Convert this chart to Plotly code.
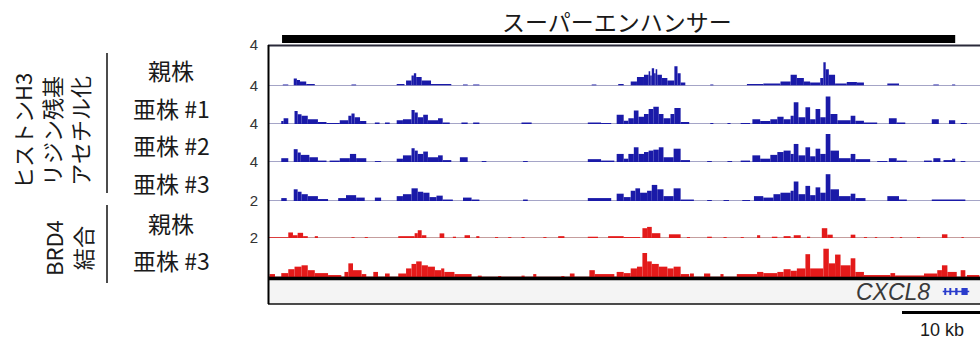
import plotly.graph_objects as go

# ---------------- data (genomic position in kb from left edge of view) ----------------
# each entry: (start_kb, end_kb, signal)
h3_parent = [
    (1.9, 2.6, 0.1), (3.3, 3.7, 0.7), (3.7, 4.1, 0.55), (4.1, 4.9, 0.4), (4.9, 6.0, 0.15),
    (10.7, 11.3, 0.1), (16.5, 17.5, 0.15), (17.7, 18.4, 0.5), (18.4, 18.7, 1.0), (18.7, 19.0, 1.2),
    (19.0, 19.7, 0.85), (19.7, 20.9, 0.5), (20.9, 23.5, 0.15), (25.0, 25.6, 0.1), (26.3, 27.1, 0.1),
    (41.5, 42.1, 0.1), (44.9, 45.6, 0.15),
    (46.5, 47.3, 0.4), (47.3, 48.2, 0.85), (48.2, 48.8, 1.05), (48.8, 49.0, 1.4), (49.0, 49.2, 1.0),
    (49.2, 49.5, 1.7), (49.5, 49.7, 1.2), (49.7, 49.9, 1.6), (49.9, 50.5, 1.05), (50.5, 51.2, 0.75),
    (51.2, 52.1, 0.5), (52.1, 52.5, 1.9), (52.5, 52.9, 1.2), (52.9, 53.5, 0.3), (56.7, 57.1, 0.1),
    (61.4, 63.5, 0.15), (63.5, 65.7, 0.2), (65.7, 67.0, 0.4), (67.0, 67.8, 1.05), (67.8, 68.7, 0.75),
    (68.7, 69.5, 0.4), (69.5, 70.8, 0.3), (70.8, 71.2, 0.75), (71.2, 71.5, 2.3), (71.5, 71.9, 1.6),
    (71.9, 72.7, 1.05), (72.7, 74.2, 0.2), (74.2, 75.5, 0.35), (75.5, 76.4, 0.3), (79.4, 80.9, 0.2),
    (85.3, 86.0, 0.1), (87.7, 88.1, 0.1),
]
h3_sub1 = [
    (1.7, 2.0, 0.3), (2.0, 2.6, 0.6), (3.4, 3.8, 1.35), (3.8, 4.3, 1.0), (4.3, 5.1, 0.85),
    (5.1, 6.4, 0.5), (6.4, 7.5, 0.2), (7.5, 9.2, 0.1), (9.2, 10.3, 0.4), (10.3, 10.7, 0.85),
    (10.7, 11.1, 1.1), (11.1, 11.8, 0.7), (11.8, 12.6, 0.3), (13.7, 14.3, 0.15), (15.0, 15.6, 0.15),
    (16.5, 17.3, 0.4), (17.3, 18.4, 0.5), (18.4, 18.8, 1.45), (18.8, 19.2, 1.2), (19.2, 19.9, 0.7),
    (19.9, 20.5, 0.95), (20.5, 21.8, 0.4), (21.8, 22.4, 0.6), (22.4, 23.3, 0.15), (24.8, 25.6, 0.15),
    (26.3, 27.1, 0.15), (32.5, 33.8, 0.15), (41.0, 42.7, 0.15), (42.7, 44.0, 0.1), (44.7, 45.6, 0.95),
    (45.6, 46.2, 0.35), (46.2, 46.9, 0.6), (46.9, 47.5, 1.4), (47.5, 48.2, 0.75), (48.2, 48.8, 1.05),
    (48.8, 49.4, 1.55), (49.4, 50.1, 1.8), (50.1, 50.7, 1.05), (50.7, 51.6, 0.6), (51.6, 52.1, 1.05),
    (52.1, 52.9, 1.65), (52.9, 54.0, 0.2), (56.7, 57.1, 0.1), (58.9, 59.3, 0.1), (60.6, 61.8, 0.1),
    (62.1, 63.1, 0.5), (63.1, 64.4, 0.3), (64.4, 65.3, 0.5), (65.3, 66.1, 0.75), (66.1, 67.0, 0.5),
    (67.0, 67.4, 0.85), (67.4, 68.0, 2.25), (68.0, 68.9, 0.7), (68.9, 69.5, 1.75), (69.5, 70.2, 0.5),
    (70.2, 70.8, 1.55), (70.8, 71.5, 0.7), (71.5, 72.1, 2.85), (72.1, 73.0, 1.05), (73.0, 74.7, 0.4),
    (74.7, 75.3, 0.85), (75.3, 76.4, 0.35), (76.4, 78.1, 0.15), (79.6, 80.6, 0.6), (80.6, 81.7, 0.15),
    (85.1, 86.0, 0.5), (87.3, 88.1, 0.4), (88.8, 89.6, 0.1),
]
h3_sub2 = [
    (1.7, 2.6, 0.4), (3.3, 3.8, 1.35), (3.8, 4.2, 1.0), (4.2, 5.3, 0.75), (5.3, 6.4, 0.5),
    (6.4, 7.5, 0.15), (7.9, 9.2, 0.15), (9.2, 10.5, 0.4), (10.5, 11.3, 0.85), (11.3, 12.6, 0.4),
    (13.7, 14.5, 0.1), (16.5, 17.3, 0.35), (17.3, 18.4, 0.7), (18.4, 18.8, 1.45), (18.8, 19.2, 1.2),
    (19.2, 19.9, 0.85), (19.9, 20.5, 1.1), (20.5, 21.8, 0.5), (21.8, 22.4, 0.7), (22.4, 23.5, 0.2),
    (24.6, 25.6, 0.5), (27.4, 28.0, 0.1), (32.7, 33.3, 0.1), (41.0, 42.7, 0.3), (42.7, 44.4, 0.15),
    (44.7, 45.6, 0.85),
    (45.6, 46.2, 0.35), (46.2, 46.9, 0.85), (46.9, 47.5, 1.55), (47.5, 48.2, 0.85), (48.2, 48.8, 1.05),
    (48.8, 49.4, 1.2), (49.4, 50.1, 1.3), (50.1, 50.7, 1.55), (50.7, 52.0, 0.5), (52.0, 52.9, 1.4),
    (52.9, 54.1, 0.2), (56.3, 56.9, 0.1), (58.9, 59.5, 0.1), (60.6, 61.8, 0.15), (62.1, 63.1, 0.7),
    (63.1, 64.4, 0.35), (64.4, 65.3, 0.75), (65.3, 66.1, 1.05), (66.1, 67.0, 1.2), (67.0, 67.4, 0.85),
    (67.4, 68.0, 1.9), (68.0, 68.9, 0.7), (68.9, 69.5, 1.55), (69.5, 70.2, 0.6), (70.2, 70.8, 1.4),
    (70.8, 71.5, 0.85), (71.5, 72.1, 2.95), (72.1, 73.2, 1.2), (73.2, 74.7, 0.4), (74.7, 75.3, 0.85),
    (75.3, 77.2, 0.3), (78.1, 79.4, 0.1), (79.6, 80.6, 0.4), (80.6, 81.9, 0.15), (84.1, 85.1, 0.15),
    (85.3, 86.2, 0.4), (86.6, 87.7, 0.2), (87.7, 88.1, 0.35), (88.8, 89.4, 0.1),
]
h3_sub3 = [
    (1.7, 2.4, 0.3), (3.3, 3.8, 1.2), (3.8, 4.3, 0.95), (4.3, 5.1, 0.7), (5.1, 6.4, 0.5),
    (6.4, 7.7, 0.2), (9.0, 10.0, 0.3), (10.0, 11.3, 0.6), (11.3, 12.4, 0.35), (13.7, 14.5, 0.35),
    (16.5, 17.3, 0.5), (17.3, 18.4, 0.7), (18.4, 19.2, 1.3), (19.2, 19.9, 0.95), (19.9, 20.7, 0.85),
    (20.7, 21.6, 0.4), (21.6, 22.4, 0.55), (22.4, 23.7, 0.15), (25.0, 26.1, 0.35), (26.1, 27.1, 0.15),
    (32.7, 33.3, 0.15), (41.0, 44.0, 0.3), (44.7, 45.6, 0.75),
    (45.6, 46.5, 0.4), (46.5, 47.1, 1.05), (47.1, 47.7, 1.3), (47.7, 48.6, 0.85), (48.6, 49.2, 1.05),
    (49.2, 49.9, 1.65), (49.9, 50.7, 1.2), (50.7, 52.0, 0.5), (52.0, 52.9, 1.3), (52.9, 54.6, 0.15),
    (56.3, 56.9, 0.1), (58.4, 59.1, 0.1), (60.8, 61.8, 0.1), (62.3, 63.5, 0.5), (63.5, 64.8, 0.35),
    (64.8, 65.7, 0.7), (65.7, 67.0, 0.85), (67.0, 67.4, 1.05), (67.4, 68.0, 2.0), (68.0, 68.9, 0.7),
    (68.9, 69.5, 1.55), (69.5, 70.2, 0.6), (70.2, 70.8, 1.4), (70.8, 71.5, 0.85), (71.5, 72.1, 2.75),
    (72.1, 73.2, 1.2), (73.2, 74.7, 0.5), (74.7, 75.3, 0.75), (75.3, 76.6, 0.3), (79.4, 80.9, 0.5),
    (80.9, 81.9, 0.15), (85.1, 89.4, 0.15),
]
brd4_parent = [
    (0.0, 2.6, 0.04), (2.6, 3.2, 0.3), (3.2, 3.8, 0.15), (3.8, 4.5, 0.28), (4.5, 5.1, 0.1),
    (6.0, 6.4, 0.1), (10.7, 11.1, 0.05), (12.4, 12.8, 0.05), (16.7, 18.8, 0.1), (18.8, 19.2, 0.26),
    (19.2, 19.7, 0.42), (19.7, 20.3, 0.15), (22.0, 22.6, 0.25), (23.7, 24.1, 0.07), (25.2, 25.9, 0.15),
    (26.7, 27.1, 0.1), (29.1, 29.5, 0.05), (30.8, 31.2, 0.05), (32.5, 32.9, 0.05), (35.3, 35.7, 0.05),
    (37.2, 38.0, 0.1), (41.0, 42.3, 0.07), (43.6, 45.6, 0.1),
    (45.6, 47.7, 0.05), (48.0, 48.6, 0.53), (48.6, 49.2, 0.6), (49.2, 50.3, 0.26), (51.4, 52.9, 0.2),
    (53.7, 54.1, 0.05), (56.3, 56.9, 0.07), (58.4, 58.8, 0.05), (60.6, 61.0, 0.05), (62.7, 63.1, 0.15),
    (64.6, 65.3, 0.07), (66.1, 67.0, 0.1), (67.4, 68.3, 0.15), (69.1, 69.5, 0.07), (71.0, 71.7, 0.53),
    (71.7, 72.4, 0.18), (74.7, 75.3, 0.18), (76.4, 76.8, 0.05), (77.8, 78.1, 0.05), (79.8, 80.2, 0.05),
    (81.0, 81.3, 0.05), (83.2, 83.6, 0.05), (86.4, 87.1, 0.2), (88.9, 89.2, 0.05),
]
brd4_sub3 = [
    (0.2, 0.9, 0.15), (1.7, 2.6, 0.2), (2.6, 3.4, 0.4), (3.4, 4.3, 0.53), (4.3, 5.1, 0.6),
    (5.1, 6.0, 0.35), (6.0, 7.7, 0.2), (7.7, 9.4, 0.1), (9.8, 10.3, 0.26), (10.3, 10.9, 0.7),
    (10.9, 12.0, 0.35), (12.0, 12.6, 0.15), (13.5, 14.1, 0.26), (15.0, 15.6, 0.18), (16.7, 17.7, 0.18),
    (17.7, 18.4, 0.44), (18.4, 19.0, 0.67), (19.0, 19.7, 0.8), (19.7, 20.5, 0.6), (20.5, 21.4, 0.53),
    (21.4, 22.2, 0.35), (22.2, 22.6, 0.44), (22.6, 23.9, 0.26), (23.9, 26.1, 0.15), (26.9, 27.4, 0.07),
    (29.5, 29.9, 0.05), (32.5, 32.9, 0.07), (34.0, 34.4, 0.15), (37.6, 38.0, 0.05), (38.7, 39.3, 0.18),
    (41.2, 41.9, 0.35), (41.9, 44.4, 0.15), (44.7, 45.6, 0.26),
    (45.6, 46.5, 0.2), (46.5, 47.3, 0.44), (47.3, 48.0, 0.53), (48.0, 48.6, 1.23), (48.6, 49.2, 0.8),
    (49.2, 50.1, 0.67), (50.1, 51.2, 0.53), (51.2, 52.0, 0.44), (52.0, 52.9, 0.53), (52.9, 54.0, 0.15),
    (54.1, 54.6, 0.18), (55.9, 56.7, 0.18), (58.0, 58.4, 0.15), (60.1, 62.7, 0.15), (62.7, 63.5, 0.26),
    (63.5, 65.3, 0.2), (65.3, 66.1, 0.26), (66.1, 67.0, 0.4), (67.0, 67.8, 0.32), (67.8, 68.9, 0.44),
    (68.9, 69.5, 1.17), (69.5, 71.2, 0.44), (71.2, 71.9, 1.45), (71.9, 72.7, 0.7), (72.7, 73.4, 1.15),
    (73.4, 74.7, 0.6), (74.7, 75.3, 0.96), (75.3, 76.4, 0.26), (76.4, 79.8, 0.1), (79.8, 80.4, 0.2),
    (80.4, 84.1, 0.08), (84.1, 85.8, 0.18), (85.8, 86.4, 0.35), (86.4, 87.1, 0.6), (87.1, 88.3, 0.26),
    (88.8, 89.4, 0.35), (89.6, 91.2, 0.1),
]

tracks = [h3_parent, h3_sub1, h3_sub2, h3_sub3, brd4_parent, brd4_sub3]
scale_max = [4, 4, 4, 4, 2, 2]
scale_labels = ["4", "4", "4", "4", "2", "2"]
row_labels = ["親株", "亜株 #1", "亜株 #2", "亜株 #3", "親株", "亜株 #3"]
group_labels = ["ヒストンH3<br>リジン残基<br>アセチル化", "BRD4<br>結合"]
view_kb = (0.0, 91.28)
super_enhancer_kb = (1.8, 88.1)
super_enhancer_label = "スーパーエンハンサー"
gene_name = "CXCL8"
gene_span_kb = (86.5, 89.9)
gene_exons_kb = [(86.7, 86.95), (87.35, 87.6), (88.1, 88.4), (88.9, 89.7)]
scale_bar_kb = 10
scale_bar_label = "10 kb"

# ---------------- layout helpers ----------------
W, H = 980, 345
L, R, T, B = 268, 0, 45, 41
PW, PH = W - L - R, H - T - B


def fx(px):
    return (px - L) / PW


def fy(py):
    return (H - B - py) / PH


track_px = [(45, 85.5), (85.5, 124), (124, 162), (162, 201), (201, 238), (238, 277)]
blue, red = "#1a1aa8", "#e31a1a"
colors = [blue, blue, blue, blue, red, red]
base_colors = ["#4a4a8e"] * 4 + ["#8a3a3a"] * 2
JP = "Noto Sans CJK JP, Noto Sans, sans-serif"
AR = "Arial, Liberation Sans, sans-serif"

fig = go.Figure()
shapes = []
for i, segs in enumerate(tracks):
    yname = "y" if i == 0 else f"y{i+1}"
    fig.add_trace(go.Bar(
        x=[(s + e) / 2 for s, e, v in segs],
        y=[v for s, e, v in segs],
        width=[e - s for s, e, v in segs],
        marker=dict(color=colors[i], line=dict(width=0)),
        xaxis="x", yaxis=yname, showlegend=False, hoverinfo="skip",
    ))
    top, bot = track_px[i]
    fig.layout[f"yaxis{'' if i == 0 else i+1}"] = dict(
        domain=[fy(bot), fy(top)], range=[0, scale_max[i]], anchor="x",
        tickvals=[scale_max[i]], ticktext=[scale_labels[i]], ticks="",
        showgrid=False, zeroline=False, showline=False,
        tickfont=dict(family=AR, size=15, color="#333"), ticklabelstandoff=9,
    )
    shapes.append(dict(type="line", xref="x", yref=yname, x0=view_kb[0], x1=view_kb[1],
                       y0=0, y1=0, line=dict(color=base_colors[i], width=1), layer="below"))

# gene track background and frame
shapes += [
    dict(type="rect", xref="paper", yref="paper", x0=0, x1=1, y0=fy(304), y1=fy(279),
         fillcolor="#f4f4f4", line=dict(width=0), layer="below"),
    dict(type="line", xref="paper", yref="paper", x0=0, x1=1, y0=fy(278.5), y1=fy(278.5),
         line=dict(color="#000", width=3.5)),
    dict(type="line", xref="paper", yref="paper", x0=0, x1=1, y0=fy(304), y1=fy(304),
         line=dict(color="#111", width=1.5)),
    dict(type="line", xref="paper", yref="paper", x0=0, x1=1, y0=fy(45.5), y1=fy(45.5),
         line=dict(color="#2a2a3a", width=2)),
    dict(type="line", xref="paper", yref="paper", x0=fx(268.5), x1=fx(268.5), y0=fy(304), y1=fy(45),
         line=dict(color="#000", width=2)),
    # super-enhancer bar
    dict(type="rect", xref="x", yref="paper", x0=super_enhancer_kb[0], x1=super_enhancer_kb[1],
         y0=fy(43), y1=fy(35), fillcolor="#000", line=dict(width=0)),
    # gene model
    dict(type="line", xref="x", yref="paper", x0=gene_span_kb[0], x1=gene_span_kb[1],
         y0=fy(291.5), y1=fy(291.5), line=dict(color="#2a3ccc", width=1.5)),
    # scale bar
    dict(type="line", xref="x", yref="paper", x0=view_kb[1] - scale_bar_kb, x1=view_kb[1],
         y0=fy(312.5), y1=fy(312.5), line=dict(color="#000", width=3)),
    # bracket lines on the left
    dict(type="line", xref="paper", yref="paper", x0=fx(107), x1=fx(107), y0=fy(193), y1=fy(53),
         line=dict(color="#111", width=1.5)),
    dict(type="line", xref="paper", yref="paper", x0=fx(107), x1=fx(107), y0=fy(283), y1=fy(205),
         line=dict(color="#111", width=1.5)),
]
for s, e in gene_exons_kb:
    shapes.append(dict(type="rect", xref="x", yref="paper", x0=s, x1=e, y0=fy(295), y1=fy(288),
                       fillcolor="#2a3ccc", line=dict(width=0)))

row_y = [70, 108, 145, 183, 223, 260]
annotations = []
for lbl, yy in zip(row_labels, row_y):
    annotations.append(dict(text=lbl, xref="paper", yref="paper", x=fx(171), y=fy(yy),
                            xanchor="center", yanchor="middle", showarrow=False,
                            font=dict(family=JP, size=23, color="#1a1a1a")))
annotations += [
    dict(text=group_labels[0], xref="paper", yref="paper", x=fx(50), y=fy(131), textangle=-90,
         xanchor="center", yanchor="middle", showarrow=False, align="center",
         font=dict(family=JP, size=22, color="#1a1a1a")),
    dict(text=group_labels[1], xref="paper", yref="paper", x=fx(67), y=fy(248), textangle=-90,
         xanchor="center", yanchor="middle", showarrow=False, align="center",
         font=dict(family=JP, size=22, color="#1a1a1a")),
    dict(text=super_enhancer_label, xref="paper", yref="paper", x=fx(617), y=fy(21),
         xanchor="center", yanchor="middle", showarrow=False,
         font=dict(family=JP, size=23, color="#1a1a1a")),
    dict(text=f"<i>{gene_name}</i>", xref="paper", yref="paper", x=fx(932), y=fy(292),
         xanchor="right", yanchor="middle", showarrow=False,
         font=dict(family=AR, size=23, color="#3a3a3a")),
    dict(text=scale_bar_label, xref="paper", yref="paper", x=fx(942), y=fy(330),
         xanchor="center", yanchor="middle", showarrow=False,
         font=dict(family=AR, size=18, color="#1a1a1a")),
]

fig.update_layout(
    width=W, height=H, margin=dict(l=L, r=R, t=T, b=B),
    paper_bgcolor="white", plot_bgcolor="white",
    barmode="overlay", showlegend=False,
    xaxis=dict(range=list(view_kb), visible=False, domain=[0, 1], anchor="y6"),
    shapes=shapes, annotations=annotations,
)

fig.write_html(
    "out.html",
    config={"displayModeBar": False, "staticPlot": True},
    post_script="document.body.style.margin='0';document.body.style.overflow='hidden';",
)
